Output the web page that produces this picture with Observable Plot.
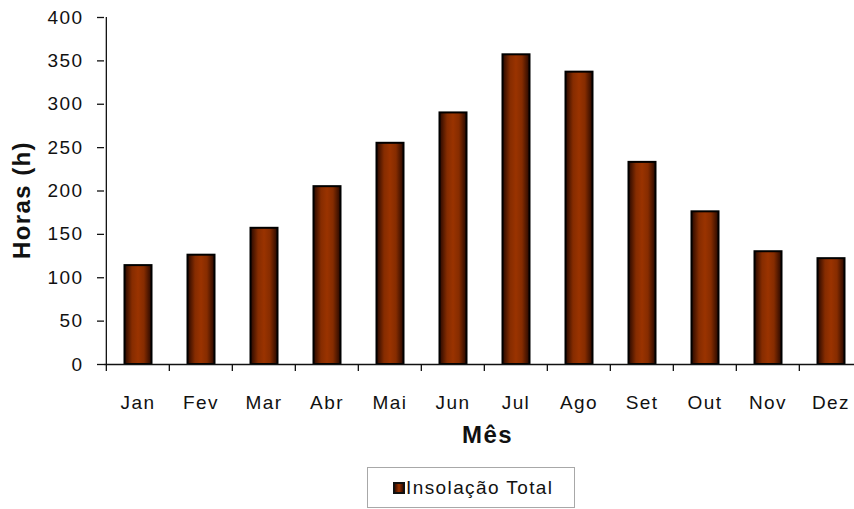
<!DOCTYPE html>
<html>
<head>
<meta charset="utf-8">
<script src="https://cdn.jsdelivr.net/npm/d3@7"></script>
<script src="https://cdn.jsdelivr.net/npm/@observablehq/plot@0.6"></script>
<style>
  body { margin: 0; background: #fff; }
  #chart { position: relative; width: 854px; height: 509px; overflow: hidden; font-family: "Liberation Sans", Arial, sans-serif; }
  #chart svg { display: block; }
  .legend {
    position: absolute; left: 367px; top: 467px; width: 208px; height: 41px;
    box-sizing: border-box; border: 1px solid #a8a8a8; background: #fff;
    display: flex; align-items: center; padding-left: 25px;
    font-size: 19px; letter-spacing: 1.4px; color: #111;
  }
  .legend .swatch {
    width: 12px; height: 12px; box-sizing: border-box; border: 2px solid #111;
    background: linear-gradient(to right, #3a0d00, #9a3300 50%, #3a0d00);
    margin-right: 1px;
  }
</style>
</head>
<body>
<div id="chart"></div>
<script>
// Insolação total mensal (horas)
const months = ["Jan", "Fev", "Mar", "Abr", "Mai", "Jun", "Jul", "Ago", "Set", "Out", "Nov", "Dez"];
const hours = [114, 126, 157, 205, 255, 290, 357, 337, 233, 176, 130, 122];
const yTicks = [0, 50, 100, 150, 200, 250, 300, 350, 400];
const seriesName = "Insolação Total";

const data = months.map((m, i) => ({month: m, hours: hours[i]}));

const width = 854;
const marginLeft = 104;
const marginRight = -10; // last category runs past the right edge
const step = (width - marginRight - marginLeft) / months.length;

const chart = Plot.plot({
  width,
  height: 460,
  marginLeft,
  marginRight,
  marginTop: 17,
  marginBottom: 96,
  style: {fontFamily: "'Liberation Sans', Arial, sans-serif", fontSize: "19px", letterSpacing: "1.4px", color: "#111", background: "#fff"},
  x: {domain: months, padding: 0},
  y: {domain: [0, 400]},
  marks: [
    Plot.barY(data, {
      x: "month", y: "hours",
      fill: "url(#insolacao)", stroke: "#000", strokeWidth: 2,
      insetLeft: 18.5, insetRight: 17.5
    }),
    // axis lines
    Plot.ruleY([0], {stroke: "#111", strokeWidth: 1.3}),
    Plot.ruleX([months[0]], {y1: 0, y2: 400, dx: -step / 2, stroke: "#111", strokeWidth: 1.3}),
    // y ticks and labels
    Plot.axisY({ticks: yTicks, tickSize: 7, tickPadding: 14, label: null, tickFormat: d => d, strokeWidth: 1.3}),
    // x ticks at category boundaries
    Plot.axisX({tickSize: 7, tickFormat: () => "", dx: -step / 2, label: null, strokeWidth: 1.3}),
    // x category labels
    Plot.axisX({tickSize: 0, tickPadding: 31, label: null}),
    // axis titles
    Plot.text(["Horas (h)"], {frameAnchor: "left", textAnchor: "middle", dx: -82, dy: 9, rotate: -90, fontWeight: "bold", fontSize: 24, text: d => d}),
    Plot.text(["Mês"], {frameAnchor: "bottom", textAnchor: "middle", dx: 3, dy: 78, fontWeight: "bold", fontSize: 24, text: d => d})
  ]
});

// horizontal shading for the bars
const defs = d3.select(chart).insert("defs", ":first-child");
const grad = defs.append("linearGradient").attr("id", "insolacao")
  .attr("x1", 0).attr("x2", 1).attr("y1", 0).attr("y2", 0);
[[0, "#260800"], [0.28, "#862c00"], [0.5, "#9a3300"], [0.72, "#862c00"], [1, "#260800"]]
  .forEach(([o, c]) => grad.append("stop").attr("offset", o).attr("stop-color", c));

const root = document.getElementById("chart");
root.appendChild(chart);

const legend = document.createElement("div");
legend.className = "legend";
legend.innerHTML = `<span class="swatch"></span><span>${seriesName}</span>`;
root.appendChild(legend);
</script>
</body>
</html>
